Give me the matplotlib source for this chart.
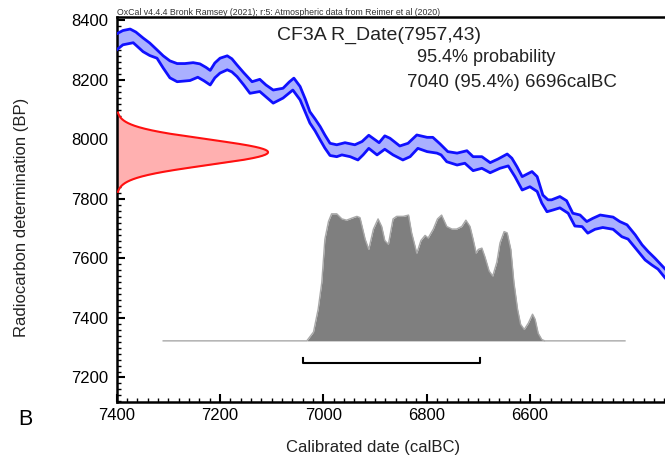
import numpy as np
import matplotlib.pyplot as plt
from matplotlib.ticker import FixedLocator, MultipleLocator

plt.rcParams["font.family"] = ["Liberation Sans", "DejaVu Sans"]

# ── Sample: radiocarbon determination ───────────────────────────────────────
sample_name = "CF3A"
r_date = 7957       # BP
r_error = 43        # 1 sigma
range_prob = "95.4%"
range_from = 7040   # calBC
range_to = 6696     # calBC

# labelled ticks on the date axis
date_ticks = [7400, 7200, 7000, 6800, 6600]

# ── Calibration curve band (IntCal20 ±1σ), calBC vs BP ─────────────────────
curve_upper_date = [7400, 7388, 7374, 7363, 7349, 7336, 7322, 7310, 7297, 7283,
                    7268, 7252, 7239, 7227, 7219, 7210, 7200, 7186, 7177, 7167,
                    7154, 7138, 7123, 7111, 7097, 7078, 7066, 7057, 7045, 7035,
                    7026, 7016, 7006, 6997, 6987, 6974, 6958, 6939, 6925, 6912,
                    6904, 6892, 6881, 6871, 6852, 6836, 6819, 6799, 6788, 6774,
                    6759, 6741, 6722, 6710, 6693, 6677, 6662, 6644, 6635, 6625,
                    6615, 6596, 6586, 6575, 6565, 6558, 6542, 6529, 6517, 6503,
                    6490, 6478, 6464, 6439, 6426, 6412, 6396, 6383, 6371, 6358,
                    6338, 6329]
curve_upper_bp = [8355, 8366, 8371, 8361, 8341, 8324, 8301, 8281, 8264, 8255,
                  8255, 8258, 8254, 8242, 8232, 8257, 8273, 8281, 8271, 8250,
                  8224, 8194, 8202, 8183, 8166, 8172, 8193, 8206, 8178, 8136,
                  8093, 8069, 8043, 8015, 7987, 7982, 7989, 7982, 7993, 8014,
                  8004, 7989, 8012, 8004, 7978, 7987, 8015, 8007, 8007, 7985,
                  7959, 7954, 7962, 7942, 7942, 7922, 7934, 7951, 7937, 7908,
                  7875, 7892, 7875, 7813, 7797, 7797, 7808, 7794, 7752, 7746,
                  7724, 7735, 7746, 7739, 7724, 7713, 7679, 7646, 7623, 7601,
                  7564, 7550]

curve_lower_date = [7400, 7388, 7368, 7361, 7349, 7336, 7322, 7310, 7297, 7283,
                    7258, 7243, 7231, 7219, 7210, 7200, 7186, 7177, 7167, 7154,
                    7142, 7123, 7111, 7097, 7078, 7059, 7045, 7035, 7026, 7016,
                    7006, 6997, 6987, 6974, 6964, 6948, 6933, 6923, 6912, 6896,
                    6881, 6865, 6846, 6832, 6817, 6799, 6780, 6772, 6761, 6741,
                    6726, 6710, 6693, 6677, 6658, 6642, 6629, 6615, 6600, 6586,
                    6577, 6567, 6555, 6542, 6526, 6513, 6499, 6488, 6474, 6459,
                    6439, 6422, 6410, 6393, 6377, 6364, 6352, 6338, 6329]
curve_lower_bp = [8301, 8318, 8325, 8314, 8295, 8282, 8273, 8240, 8207, 8194,
                  8198, 8209, 8197, 8183, 8207, 8223, 8234, 8227, 8211, 8183,
                  8155, 8161, 8143, 8122, 8139, 8166, 8133, 8092, 8055, 8029,
                  7998, 7971, 7946, 7942, 7948, 7942, 7931, 7948, 7970, 7948,
                  7967, 7948, 7931, 7942, 7970, 7959, 7954, 7948, 7925, 7914,
                  7920, 7895, 7903, 7888, 7903, 7911, 7875, 7830, 7841, 7825,
                  7786, 7757, 7763, 7770, 7752, 7709, 7707, 7685, 7698, 7704,
                  7698, 7673, 7665, 7629, 7595, 7578, 7564, 7534, 7518]

# ── Calibrated probability distribution (relative density) ────────────────
cal_date = [7310, 7032, 7019, 7010, 7003, 6997, 6990, 6984, 6974, 6964,
            6955, 6942, 6935, 6929, 6919, 6912, 6903, 6894, 6887, 6881,
            6874, 6865, 6858, 6845, 6835, 6829, 6819, 6811, 6803, 6797,
            6787, 6779, 6771, 6761, 6751, 6742, 6732, 6724, 6716, 6710,
            6704, 6700, 6693, 6687, 6679, 6672, 6664, 6658, 6650, 6644,
            6637, 6631, 6624, 6618, 6611, 6603, 6595, 6590, 6584, 6577,
            6571, 6416]
cal_prob = [0.0, 0.0, 0.07, 0.25, 0.46, 0.80, 0.94, 1.0, 1.0, 0.96,
            0.95, 0.97, 0.98, 0.97, 0.80, 0.72, 0.88, 0.96, 0.90, 0.79,
            0.76, 0.96, 0.98, 0.98, 0.99, 0.85, 0.69, 0.79, 0.83, 0.81,
            0.88, 0.96, 0.99, 0.90, 0.88, 0.88, 0.90, 0.95, 0.90, 0.80,
            0.69, 0.72, 0.73, 0.66, 0.55, 0.51, 0.62, 0.77, 0.86, 0.85,
            0.72, 0.46, 0.25, 0.13, 0.09, 0.14, 0.21, 0.17, 0.06, 0.01,
            0.0, 0.0]

# plotting scale for the two distributions
cal_base = 7323      # BP level of the calibrated distribution baseline
cal_height = 427     # BP units for relative density 1.0
rdate_width = 293    # calendar years for the peak of the R_Date curve
bracket_y = 7249

fig = plt.figure(figsize=(6.65, 4.66), dpi=100)
ax = fig.add_axes([0.1755, 0.137, 0.8245, 0.8275])

# calibration curve
band_x = curve_upper_date + curve_lower_date[::-1]
band_y = curve_upper_bp + curve_lower_bp[::-1]
ax.fill(band_x, band_y, color="#aab0ff", lw=0, zorder=2)
ax.plot(curve_upper_date, curve_upper_bp, color="#1010ff", lw=2.0, zorder=3)
ax.plot(curve_lower_date, curve_lower_bp, color="#1010ff", lw=2.0, zorder=3)

# radiocarbon date as a normal distribution on the y axis
bp = np.linspace(r_date - 3.1 * r_error, r_date + 3.1 * r_error, 300)
dens = np.exp(-0.5 * ((bp - r_date) / r_error) ** 2)
ax.fill_betweenx(bp, 7400, 7400 - rdate_width * dens, color="#ffb0b0", lw=0, zorder=2)
ax.plot(7400 - rdate_width * dens, bp, color="#ff1010", lw=1.5, zorder=3)

# calibrated distribution
cal_top = cal_base + cal_height * np.array(cal_prob)
ax.fill_between(cal_date, cal_base, cal_top, color="#7f7f7f", lw=0, zorder=2)
ax.plot(cal_date, cal_top, color="#a8a8a8", lw=1.0, zorder=2)

# 95.4% range bracket
ax.plot([range_from, range_from, range_to, range_to],
        [bracket_y + 17, bracket_y, bracket_y, bracket_y + 17],
        color="black", lw=1.5, zorder=3)

ax.set_xlim(7400, 6338.5)
ax.set_ylim(7117, 8413)
ax.xaxis.set_major_locator(FixedLocator(date_ticks))
ax.xaxis.set_minor_locator(MultipleLocator(20))
ax.yaxis.set_major_locator(MultipleLocator(200))
ax.yaxis.set_minor_locator(MultipleLocator(20))
ax.tick_params(which="both", direction="in", top=False, right=False,
               labelsize=12, width=1.5, colors="black")
ax.tick_params(which="major", length=6)
ax.tick_params(which="minor", length=3, width=1.0)
ax.tick_params(axis="y", pad=6)
ax.tick_params(axis="x", pad=4)
ax.spines["right"].set_visible(False)
for side in ["left", "bottom", "top"]:
    ax.spines[side].set_linewidth(1.8)

ax.set_xlabel("Calibrated date (calBC)", fontsize=12, color="#222222")
ax.set_ylabel("Radiocarbon determination (BP)", fontsize=12, color="#222222")
ax.xaxis.set_label_coords(0.4675, -0.098)
ax.yaxis.set_label_coords(-0.16, 0.48)

fig.text(0.176, 0.968, "OxCal v4.4.4 Bronk Ramsey (2021); r:5: Atmospheric data from Reimer et al (2020)",
         fontsize=6.3, va="baseline", color="#333333")
fig.text(0.417, 0.914, f"{sample_name} R_Date({r_date},{r_error})",
         fontsize=14, va="baseline", color="#222222")
fig.text(0.627, 0.866, f"{range_prob} probability",
         fontsize=13, va="baseline", color="#222222")
fig.text(0.612, 0.814, f"{range_from} ({range_prob}) {range_to}calBC",
         fontsize=13.5, va="baseline", color="#222222")
fig.text(0.027, 0.087, "B", fontsize=15.5, va="baseline", color="black")

fig.savefig("out.png", dpi=100)
